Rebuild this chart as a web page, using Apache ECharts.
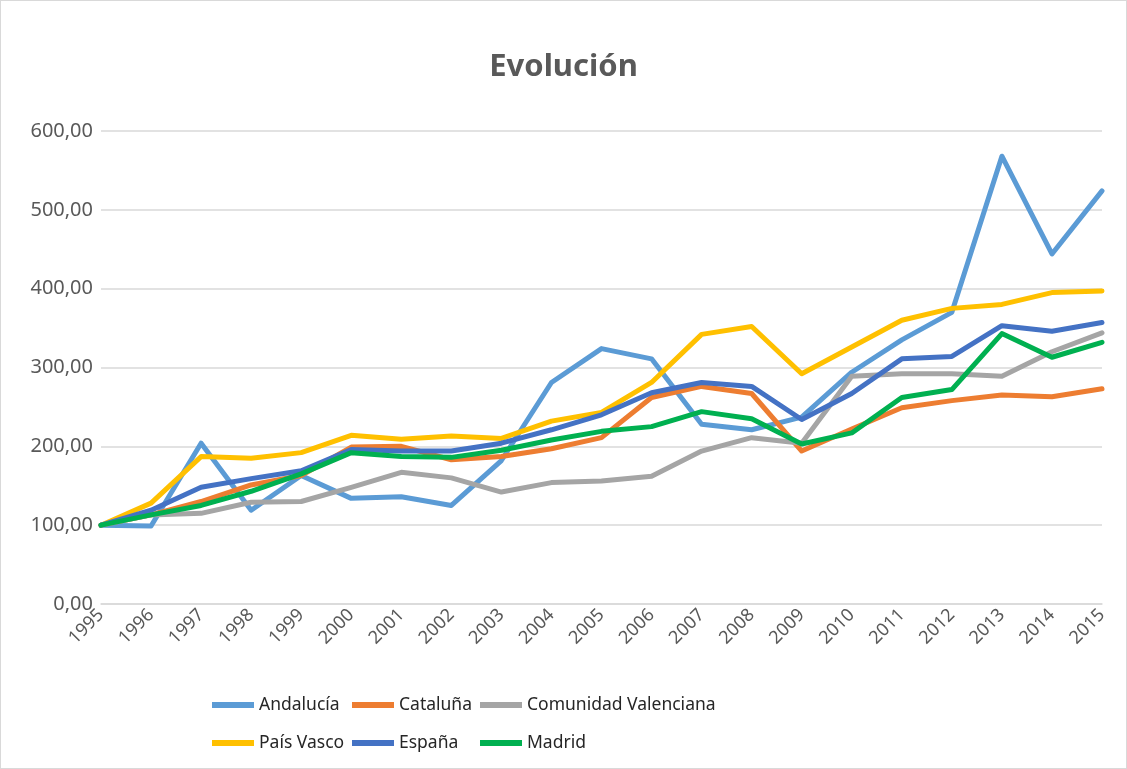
<!DOCTYPE html>
<html>
<head>
<meta charset="utf-8">
<script src="https://cdn.jsdelivr.net/npm/echarts@6/dist/echarts.min.js"></script>
<style>
html,body{margin:0;padding:0;background:#fff;}
#c{position:absolute;left:0;top:0;width:1125px;height:767px;border:1px solid #D9D9D9;}
</style>
</head>
<body>
<div id="c"></div>
<script>
const years = ['1995','1996','1997','1998','1999','2000','2001','2002','2003','2004','2005','2006','2007','2008','2009','2010','2011','2012','2013','2014','2015'];
const andalucia = [100,99,204,119,163,134,136,125,182,281,324,311,228,221,237,294,335,370,568,444,524];
const cataluna = [100,113,130,151,163,199,200,183,187,197,211,262,276,267,194,222,249,258,265,263,273];
const comValenciana = [100,113,115,129,130,148,167,160,142,154,156,162,194,211,204,289,292,292,289,320,344];
const paisVasco = [100,128,187,185,192,214,209,213,210,232,243,281,342,352,292,326,360,375,380,395,397];
const espana = [100,119,148,159,169,196,194,194,204,221,240,268,281,276,234,267,311,314,353,346,357];
const madrid = [100,113,125,143,165,192,187,186,195,208,219,225,244,235,203,217,262,272,343,313,332];
const yTicks = {min:0, max:600, interval:100};

const font = 'Noto Sans';
const chart = echarts.init(document.getElementById('c'));
function s(name, data, color){
  return {name, type:'line', data, symbol:'none', smooth:false,
    lineStyle:{width:5, color, cap:'round', join:'round'}, itemStyle:{color}};
}
function leg(left, data){
  return {orient:'vertical', left, top:695, padding:0, itemGap:20, itemWidth:42, itemHeight:6,
    icon:'rect', data, textStyle:{fontFamily:font, fontSize:17.5, color:'#262626'}};
}
chart.setOption({
  animation:false,
  title:{text:'Evolución', left:'center', top:46,
    textStyle:{fontFamily:font, fontSize:31, fontWeight:'bold', color:'#595959'}},
  legend:[
    leg(211, ['Andalucía','País Vasco']),
    leg(351, ['Cataluña','España']),
    leg(479, ['Comunidad Valenciana','Madrid'])
  ],
  grid:{left:100, right:24, top:130, bottom:164, containLabel:false},
  xAxis:{type:'category', data:years, boundaryGap:false,
    axisLine:{lineStyle:{color:'#D9D9D9', width:1.5}},
    axisTick:{show:false},
    axisLabel:{rotate:45, fontFamily:font, fontSize:18, color:'#595959', margin:8, interval:0}},
  yAxis:{type:'value', min:yTicks.min, max:yTicks.max, interval:yTicks.interval,
    axisLine:{show:false}, axisTick:{show:false},
    splitLine:{lineStyle:{color:'#D9D9D9', width:1.5}},
    axisLabel:{fontFamily:font, fontSize:20, color:'#595959', margin:8,
      formatter:v=>v.toFixed(2).replace('.',',')}},
  series:[
    s('Andalucía', andalucia, '#5B9BD5'),
    s('Cataluña', cataluna, '#ED7D31'),
    s('Comunidad Valenciana', comValenciana, '#A5A5A5'),
    s('País Vasco', paisVasco, '#FFC000'),
    s('España', espana, '#4472C4'),
    s('Madrid', madrid, '#00B050')
  ]
});
</script>
</body>
</html>
